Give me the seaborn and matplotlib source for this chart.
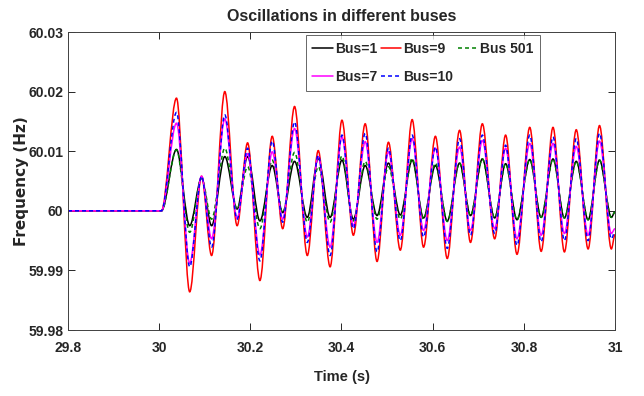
import matplotlib
matplotlib.use("Agg")
import matplotlib.pyplot as plt
from matplotlib.path import Path
from matplotlib.patches import PathPatch
from matplotlib.lines import Line2D
import seaborn as sns
import numpy as np
import pandas as pd

# time stamps: flat pre-disturbance part, then the peaks/troughs
time_s = [29.8, 30.0, 30.005,
          30.038, 30.067, 30.093, 30.115, 30.144, 30.171, 30.194, 30.221,
          30.248, 30.271, 30.297, 30.325, 30.349, 30.375, 30.401, 30.426,
          30.452, 30.478, 30.503, 30.529, 30.555, 30.580, 30.606, 30.632,
          30.659, 30.683, 30.709, 30.736, 30.760, 30.785, 30.813, 30.838,
          30.864, 30.889, 30.915, 30.941, 30.966, 30.992, 31.0]

flat = [60.0, 60.0, 60.0]

bus1 = flat + [60.0103, 59.9975, 60.0055, 59.9975, 60.0091, 60.0003, 60.0091, 59.9983,
               60.0076, 59.9997, 60.0083, 59.9989, 60.0088, 59.9989, 60.0085, 59.9986,
               60.0076, 59.9992, 60.0080, 59.9993, 60.0085, 59.9988, 60.0076, 59.9983,
               60.0080, 59.9992, 60.0087, 59.9988, 60.0079, 59.9985, 60.0086, 59.9989,
               60.0087, 59.9988, 60.0083, 59.9985, 60.0085, 59.9989, 59.9998]
bus9 = flat + [60.0189, 59.9864, 60.0058, 59.9925, 60.0200, 59.9975, 60.0114, 59.9883,
               60.0125, 59.9970, 60.0175, 59.9925, 60.0101, 59.9906, 60.0152, 59.9959,
               60.0146, 59.9915, 60.0115, 59.9934, 60.0153, 59.9939, 60.0125, 59.9920,
               60.0135, 59.9947, 60.0146, 59.9953, 60.0127, 59.9927, 60.0140, 59.9932,
               60.0140, 59.9931, 60.0136, 59.9936, 60.0143, 59.9936, 59.9960]
bus501 = flat + [60.0102, 59.9964, 60.0055, 59.9986, 60.0105, 60.0003, 60.0074, 59.9970,
                 60.0085, 59.9997, 60.0098, 59.9981, 60.0074, 59.9981, 60.0092, 59.9983,
                 60.0083, 59.9986, 60.0074, 59.9986, 60.0088, 59.9986, 60.0080, 59.9982,
                 60.0080, 59.9992, 60.0087, 59.9988, 60.0079, 59.9985, 60.0086, 59.9989,
                 60.0087, 59.9988, 60.0083, 59.9985, 60.0085, 59.9989, 59.9998]
bus7 = flat + [60.0147, 59.9912, 60.0058, 59.9953, 60.0154, 59.9987, 60.0096, 59.9926,
               60.0099, 59.9986, 60.0138, 59.9956, 60.0091, 59.9939, 60.0124, 59.9975,
               60.0116, 59.9947, 60.0099, 59.9959, 60.0121, 59.9967, 60.0105, 59.9950,
               60.0107, 59.9967, 60.0118, 59.9970, 60.0105, 59.9953, 60.0113, 59.9959,
               60.0113, 59.9962, 60.0108, 59.9959, 60.0117, 59.9962, 59.9970]
bus10 = flat + [60.0165, 59.9906, 60.0058, 59.9939, 60.0161, 59.9986, 60.0105, 59.9916,
                60.0117, 59.9981, 60.0149, 59.9947, 60.0093, 59.9925, 60.0127, 59.9970,
                60.0130, 59.9931, 60.0105, 59.9950, 60.0127, 59.9956, 60.0107, 59.9937,
                60.0121, 59.9959, 60.0127, 59.9962, 60.0110, 59.9942, 60.0127, 59.9948,
                60.0124, 59.9950, 60.0121, 59.9950, 60.0130, 59.9953, 59.9965]

x_ticks = [29.8, 30.0, 30.2, 30.4, 30.6, 30.8, 31.0]
x_ticklabels = ["29.8", "30", "30.2", "30.4", "30.6", "30.8", "31"]
y_ticks = [59.98, 59.99, 60.0, 60.01, 60.02, 60.03]
y_ticklabels = ["59.98", "59.99", "60", "60.01", "60.02", "60.03"]

sns.set_style("ticks")
plt.rcParams['font.family'] = ['Liberation Sans', 'DejaVu Sans']
plt.rcParams['font.weight'] = 'bold'


def smooth_curve(t, v):
    # join the read extrema with smooth (flat-tangent) bezier segments
    verts = [(t[0], v[0])]
    codes = [Path.MOVETO]
    for i in range(len(t) - 1):
        dt = t[i + 1] - t[i]
        verts += [(t[i] + dt / 3, v[i]), (t[i + 1] - dt / 3, v[i + 1]), (t[i + 1], v[i + 1])]
        codes += [Path.CURVE4] * 3
    return Path(verts, codes)


fig = plt.figure(figsize=(6.44, 3.96), dpi=100)
ax = fig.add_axes([68 / 644, 1 - 330 / 396, (615 - 68) / 644, (330 - 32) / 396])

dash = (0, (2.6, 2.0))
series = [("Bus=1", bus1, "black", "-"),
          ("Bus=9", bus9, "red", "-"),
          ("Bus 501", bus501, "#008000", dash),
          ("Bus=7", bus7, "magenta", "-"),
          ("Bus=10", bus10, "blue", dash)]
handles = {}
for name, vals, col, ls in series:
    df = pd.DataFrame({"t": time_s, "f": vals})
    patch = PathPatch(smooth_curve(df["t"].values, df["f"].values), facecolor="none",
                      edgecolor=col, linewidth=1.1, linestyle=ls)
    ax.add_patch(patch)
    handles[name] = Line2D([], [], color=col, linestyle=ls, linewidth=1.1)

ax.set_xlim(29.8, 31.0)
ax.set_ylim(59.98, 60.03)
ax.set_xticks(x_ticks)
ax.set_xticklabels(x_ticklabels)
ax.set_yticks(y_ticks)
ax.set_yticklabels(y_ticklabels)
ax.tick_params(direction="in", length=5, width=0.7, top=True, right=True,
               labelsize=10, colors="#262626")
ax.tick_params(axis="x", pad=8)
ax.tick_params(axis="y", pad=3.5)
for lab in ax.get_xticklabels() + ax.get_yticklabels():
    lab.set_fontweight("bold")
for sp in ax.spines.values():
    sp.set_visible(True)
    sp.set_color("#404040")
    sp.set_linewidth(0.7)

ax.set_xlabel("Time (s)", fontsize=10.5, fontweight="bold", labelpad=11)
ax.set_ylabel("Frequency (Hz)", fontsize=11, fontweight="bold", family="DejaVu Sans")
ax.yaxis.set_label_coords(-0.071, 0.5)
ax.set_title("Oscillations in different buses", fontsize=11.5, fontweight="bold", pad=8)

order = ["Bus=1", "Bus=7", "Bus=9", "Bus=10", "Bus 501"]
leg = ax.legend([handles[n] for n in order], order, ncol=3, loc="upper right",
                bbox_to_anchor=(0.863, 0.99), fontsize=10, frameon=True,
                fancybox=False, edgecolor="#404040", handlelength=1.45,
                handletextpad=0.15, columnspacing=0.3, borderpad=0.5,
                labelspacing=1.0, borderaxespad=0)
leg.get_frame().set_linewidth(0.7)
for t in leg.get_texts():
    t.set_fontweight("bold")

fig.savefig("out.png", dpi=100)
